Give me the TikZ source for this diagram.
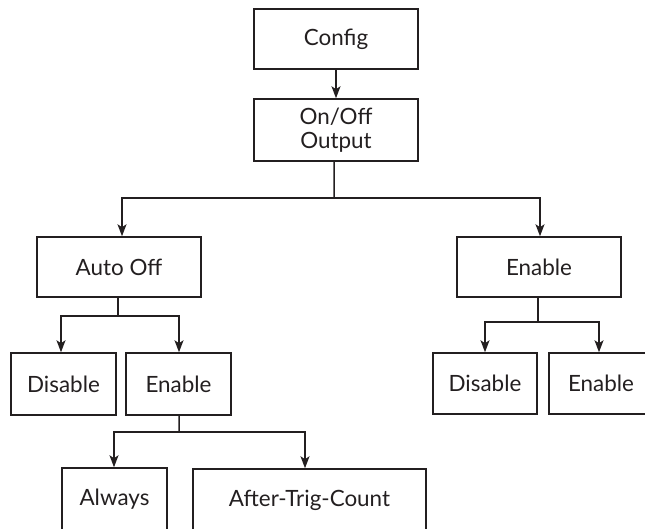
\documentclass[tikz,border=0pt]{standalone}
\usepackage{fontspec}
\setmainfont{Lato}
\usetikzlibrary{arrows.meta}
\definecolor{ink}{HTML}{231F20}
\tikzset{
  box/.style={draw=ink, line width=1.5bp, rectangle, inner sep=0pt, align=center,
    font=\fontsize{22.5}{23.5}\selectfont, text=ink},
  conn/.style={draw=ink, line width=1.5bp},
  arr/.style={conn, -{Stealth[length=12bp,width=9bp,inset=3bp]}}
}
\begin{document}
\begin{tikzpicture}[x=1bp,y=-1bp]
\useasboundingbox (0,0) rectangle (645,529);
\clip (0,0) rectangle (645,529);
\node[box, minimum width=164bp, minimum height=60bp] (config) at (336,39) {Config};
\node[box, minimum width=164bp, minimum height=62bp] (onoff) at (336,130) {On/Off\\Output};
\node[box, minimum width=164bp, minimum height=60bp] (autooff) at (119,267) {Auto Off};
\node[box, minimum width=164bp, minimum height=60bp] (enR) at (539,267) {Enable};
\node[box, minimum width=105bp, minimum height=62bp] (disL) at (63.5,384) {Disable};
\node[box, minimum width=105bp, minimum height=62bp] (enL) at (178.5,384) {Enable};
\node[box, minimum width=104bp, minimum height=61bp] (disR) at (485,383.5) {Disable};
\node[box, minimum width=104bp, minimum height=61bp] (enRR) at (601,383.5) {Enable};
\node[box, minimum width=105bp, minimum height=62bp] (always) at (114.5,499) {Always};
\node[box, minimum width=233bp, minimum height=62bp] (atc) at (309.5,500) {After-Trig-Count};

\draw[arr] (config) -- (onoff);

\coordinate (j1) at (334,198);
\draw[conn] ([xshift=-2bp]onoff.south) -- (j1);
\draw[arr] (j1) -| ([xshift=3bp]autooff.north);
\draw[arr] (j1) -| ([xshift=1bp]enR.north);

\coordinate (j2) at (118,316);
\draw[conn] ([xshift=-1bp]autooff.south) -- (j2);
\draw[arr] (j2) -| ([xshift=-2.5bp]disL.north);
\draw[arr] (j2) -| ([xshift=0.5bp]enL.north);

\coordinate (j3) at (538,322);
\draw[conn] ([xshift=-1bp]enR.south) -- (j3);
\draw[arr] (j3) -| (disR.north);
\draw[arr] (j3) -| ([xshift=-2bp]enRR.north);

\coordinate (j4) at (179,432);
\draw[conn] ([xshift=0.5bp]enL.south) -- (j4);
\draw[arr] (j4) -| ([xshift=-0.5bp]always.north);
\draw[arr] (j4) -| ([xshift=-4.5bp]atc.north);
\end{tikzpicture}
\end{document}
